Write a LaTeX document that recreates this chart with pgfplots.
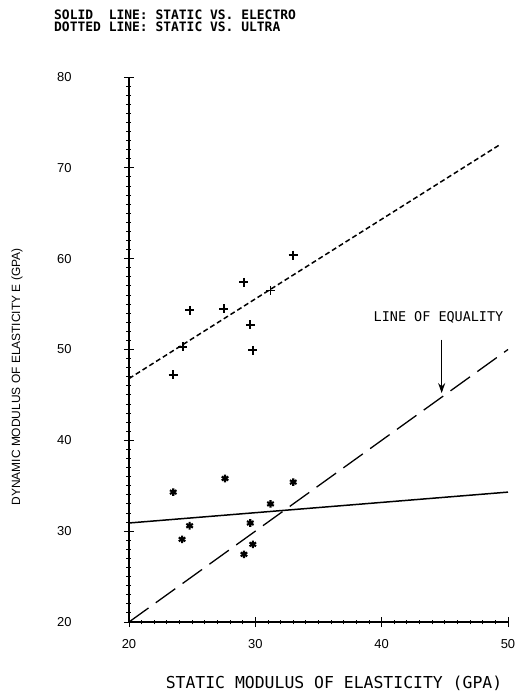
\documentclass[border=0pt]{standalone}
\usepackage{fontspec}
\setmainfont{Liberation Sans}
\newfontfamily\plotfont{DejaVu Sans Mono}
\usepackage{pgfplots}
\pgfplotsset{compat=1.18}
\usetikzlibrary{arrows.meta}
\begin{document}
\begin{tikzpicture}
\begin{axis}[
  scale only axis, width=379bp, height=545bp,
  xmin=20, xmax=50, ymin=20, ymax=80,
  axis lines=left, axis line style={-, line width=1.4pt},
  xtick={20,30,40,50}, ytick={20,30,...,80},
  minor x tick num=9, minor y tick num=9,
  tick align=center, major tick length=10bp, minor tick length=5bp,
  tick style={black, line width=0.9pt},
  /pgf/number format/assume math mode=true,
  ticklabel style={font=\fontsize{13}{13}\selectfont},
  yticklabel style={xshift=-49bp},
  xticklabel style={yshift=-9bp},
  clip=false,
]
\coordinate (O) at (rel axis cs:0,0);
% Ultra (+)
\addplot[only marks, mark=+, mark size=4.5bp, line width=1.9pt] coordinates {
 (33.0,60.4) (29.1,57.4) (31.2,56.5) (24.8,54.3) (27.5,54.5)
 (29.6,52.7) (24.25,50.3) (29.8,49.9) (23.5,47.2)};
% Electro (*)
\addplot[only marks, mark=asterisk, mark size=3.8bp, line width=2.1pt] coordinates {
 (23.5,34.3) (27.6,35.8) (33.0,35.4) (31.2,33.0) (24.8,30.6)
 (29.6,30.9) (24.2,29.1) (29.8,28.55) (29.1,27.45)};
% solid regression: static vs electro
\addplot[line width=1.5pt] coordinates {(20,30.9) (50,34.3)};
% dotted regression: static vs ultra
\addplot[line width=1.5pt, dash pattern=on 5bp off 3bp] coordinates {(20,46.8) (49.3,72.5)};
% line of equality
\addplot[line width=1.3pt, dash pattern=on 24bp off 9bp] coordinates {(20,20) (50,50)};
\node[font=\plotfont\fontsize{13.5}{13.5}\selectfont] at (axis cs:44.5,53.5) {LINE OF EQUALITY};
\draw[line width=1.4pt, -{Stealth[length=10bp,width=7bp]}] (axis cs:44.75,51.1) -- (axis cs:44.75,45.2);
\end{axis}
\node[anchor=north west, align=left, font=\plotfont\bfseries\fontsize{13}{12}\selectfont, inner sep=0pt]
  at ([shift={(-75bp,612bp)}]O) {SOLID\ \ LINE: STATIC VS. ELECTRO\\DOTTED LINE: STATIC VS. ULTRA};
\node[rotate=90, font=\fontsize{12}{12}\selectfont] at ([shift={(-112bp,245bp)}]O)
  {DYNAMIC MODULUS OF ELASTICITY E (GPA)};
\node[font=\plotfont\fontsize{16.5}{16.5}\selectfont] at ([shift={(205bp,-61bp)}]O)
  {STATIC MODULUS OF ELASTICITY (GPA)};
\path ([shift={(-129bp,-77bp)}]O) rectangle ++(514bp,699bp);
\end{tikzpicture}
\end{document}
